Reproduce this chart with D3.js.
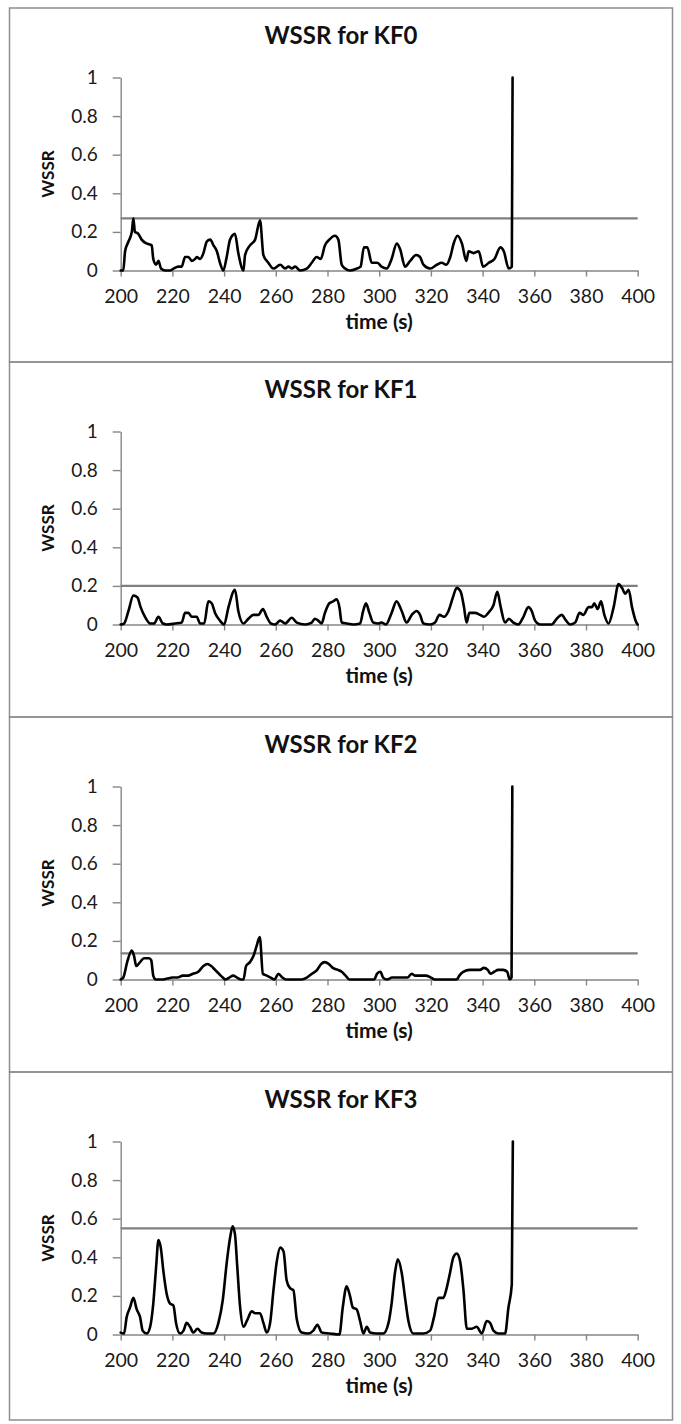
<!DOCTYPE html>
<html><head><meta charset="utf-8">
<script src="https://cdn.jsdelivr.net/npm/d3@7"></script>
<style>
body{margin:0;background:#fff}
svg{display:block}
text{font-family:Lato,"Open Sans","DejaVu Sans",sans-serif}
</style>
</head><body>
<svg id="chart" width="681" height="1424"></svg>
<script>
const titles = ["WSSR for KF0", "WSSR for KF1", "WSSR for KF2", "WSSR for KF3"];
const xTicks = [200, 220, 240, 260, 280, 300, 320, 340, 360, 380, 400];
const yTicks = [0, 0.2, 0.4, 0.6, 0.8, 1];
const thresholds = [0.27, 0.2, 0.135, 0.55];
const xLabel = "time (s)";
const yLabel = "WSSR";

const kf0 = [[200,0],[201,0],[201.7,0.10],[203,0.15],[204.3,0.20],[204.9,0.27],[205.5,0.20],[206.8,0.19],[208.1,0.16],[210,0.14],[212,0.13],[212.6,0.06],[213.7,0.03],[214.6,0.05],[215.6,0.01],[217.2,0],[219.1,0],[220.4,0.01],[222.3,0.02],[223.6,0.02],[224.9,0.07],[226.2,0.07],[227.5,0.05],[228.8,0.06],[229.4,0.07],[230.7,0.06],[232,0.09],[233.3,0.15],[234.6,0.16],[235.9,0.13],[237.2,0.10],[238.4,0.04],[239.7,0],[241,0.07],[242.3,0.16],[244.2,0.19],[245.5,0.09],[247.5,0],[248.1,0.08],[250,0.13],[252,0.16],[253.9,0.26],[255.2,0.08],[257.1,0.04],[259.1,0.01],[261.7,0.03],[263.6,0.01],[264.9,0.02],[266.2,0.01],[267.5,0.02],[269.4,0],[272,0.01],[273.9,0.04],[275.8,0.07],[277.4,0.06],[279,0.13],[280.7,0.16],[282.9,0.18],[284.2,0.16],[285.5,0.03],[286.8,0.01],[288.7,0],[291.3,0.01],[292.8,0.02],[294.1,0.12],[295.4,0.12],[297.1,0.04],[299.3,0.04],[300.9,0.02],[302.9,0.01],[304.8,0.06],[306.8,0.14],[308.1,0.11],[310,0.02],[312,0.05],[314.3,0.08],[315.8,0.07],[317.1,0.03],[319.7,0.01],[322.3,0.03],[324.2,0.04],[325.9,0.03],[327.5,0.07],[328.8,0.14],[330.3,0.18],[332,0.14],[333.7,0.05],[334.6,0.10],[336.5,0.09],[338.5,0.10],[340.2,0.02],[342.4,0.04],[344.6,0.06],[346.9,0.12],[348.2,0.10],[350.1,0.01],[351.3,0.02],[351.6,1]];

const kf1 = [[200,0],[201.3,0.005],[203,0.07],[204.9,0.15],[206.5,0.14],[207.7,0.09],[209.4,0.04],[211.4,0.005],[212.9,0.005],[214.6,0.04],[216.3,0.005],[217.8,0],[221,0.005],[223.6,0.01],[224.9,0.06],[226.2,0.06],[227.5,0.04],[229.4,0.04],[230.7,0.005],[232.3,0.005],[233.9,0.12],[235.2,0.11],[236.5,0.06],[238.4,0.02],[240,0],[241.7,0.09],[244.2,0.18],[245.5,0.07],[247.5,0.005],[249.4,0.03],[251.3,0.05],[253.3,0.05],[255,0.08],[256.5,0.04],[258.1,0.005],[259.7,0],[261.7,0.02],[263.6,0.005],[266.2,0.035],[268.1,0.01],[271.3,0],[273.9,0.01],[275.1,0.03],[276.4,0.02],[277.7,0.005],[279,0.06],[280.7,0.11],[282.2,0.12],[283.5,0.13],[284.6,0.09],[285.5,0.01],[287.4,0.005],[290,0],[292.6,0.005],[293.8,0.07],[294.9,0.11],[296.2,0.06],[297.7,0.01],[299.7,0.005],[300.9,0.01],[302.6,0],[304.8,0.06],[306.7,0.12],[308.7,0.07],[310.6,0.01],[312.6,0.05],[314.5,0.07],[315.8,0.05],[317.1,0.005],[319.7,0],[321.6,0.01],[323.3,0.05],[325.1,0.04],[326.8,0.07],[328.5,0.14],[330,0.19],[331.5,0.17],[332.8,0.09],[333.8,0.01],[334.9,0.06],[337.1,0.06],[339,0.05],[340.6,0.04],[342.2,0.06],[344.2,0.10],[345.7,0.17],[347,0.09],[348.7,0.01],[350.2,0.03],[351.9,0.01],[353.8,0],[355.8,0.04],[357.7,0.09],[359,0.07],[360.3,0.02],[362.2,0],[366.7,0],[368.7,0.03],[370.6,0.05],[372.3,0.02],[373.8,0],[375.8,0.01],[377.5,0.06],[379,0.05],[381,0.09],[382.3,0.09],[383.2,0.11],[384.5,0.08],[385.8,0.12],[387.1,0.05],[388.7,0.005],[390.7,0.09],[392.6,0.21],[393.9,0.19],[395.2,0.16],[396.5,0.18],[397.8,0.09],[399.5,0.01],[400,0]];

const kf2 = [[200,0],[201,0.01],[202.5,0.09],[204.3,0.15],[205.2,0.12],[206,0.07],[207.5,0.09],[209,0.11],[211,0.11],[211.8,0.10],[212.6,0.02],[213.5,0],[216,0],[218,0.005],[220,0.01],[222,0.01],[224,0.02],[226,0.02],[228,0.03],[230,0.04],[232,0.07],[233.5,0.08],[235,0.07],[236.5,0.05],[238,0.03],[239.5,0.01],[240.5,0],[242,0.01],[243.5,0.02],[245,0.01],[246.5,0],[247.5,0],[248.5,0.07],[250,0.09],[251.3,0.12],[252.5,0.17],[253.8,0.22],[255,0.03],[256.5,0.02],[258,0.01],[259.5,0],[261,0.03],[262.5,0.01],[264,0],[270,0],[272,0.01],[274,0.03],[276,0.05],[277.5,0.08],[279,0.09],[280.5,0.08],[282,0.06],[284,0.05],[285.5,0.04],[287,0.02],[288.5,0],[298,0],[299.2,0.03],[300.5,0.04],[301.5,0.01],[303,0],[305,0.01],[308,0.01],[311,0.01],[312.5,0.03],[314,0.02],[316,0.02],[318,0.02],[320,0.01],[321.5,0],[330,0],[331,0.02],[332.5,0.04],[335,0.05],[337.5,0.05],[339,0.05],[340.5,0.06],[342,0.05],[343,0.03],[344.5,0.04],[346,0.05],[348,0.05],[349.5,0.04],[350.5,0],[351.2,0.01],[351.5,1]];

const kf3 = [[200,0.01],[201.3,0.005],[202.3,0.09],[203.6,0.14],[204.9,0.19],[206.2,0.13],[207.5,0.09],[208.5,0.02],[210.1,0.005],[211.4,0.04],[212.6,0.16],[213.7,0.35],[214.6,0.49],[215.5,0.45],[216.5,0.33],[217.8,0.21],[219.1,0.16],[220.4,0.15],[221.4,0.06],[223,0.005],[224.3,0.02],[225.5,0.06],[226.8,0.04],[228.1,0.01],[229.7,0.03],[231.3,0.01],[233.3,0.005],[235.9,0.005],[237.8,0.06],[239.5,0.18],[241,0.37],[242.3,0.50],[243.3,0.56],[244.2,0.52],[245.1,0.35],[246.2,0.14],[247.5,0.04],[248.8,0.07],[250.7,0.12],[252,0.11],[253.9,0.11],[255.2,0.06],[256.5,0.01],[257.8,0.06],[259.1,0.23],[260.4,0.38],[261.7,0.45],[263,0.43],[264.2,0.28],[265.5,0.24],[266.8,0.23],[268.1,0.08],[270,0.01],[272.6,0.005],[274.5,0.02],[276.1,0.05],[277.8,0.01],[281,0.005],[284.6,0],[285.9,0.14],[287.4,0.25],[288.7,0.20],[289.8,0.14],[291.3,0.13],[292.6,0.07],[293.9,0.005],[295.2,0.04],[296.5,0.01],[299,0.005],[301.6,0.005],[303.6,0.06],[304.8,0.16],[306.1,0.32],[307.2,0.39],[308.7,0.32],[310,0.19],[311.3,0.07],[313.2,0.005],[317.1,0.005],[319.7,0.02],[321.2,0.09],[322.9,0.19],[324.8,0.19],[326.1,0.24],[327.4,0.32],[328.7,0.40],[330,0.42],[331.3,0.38],[332.6,0.23],[333.9,0.03],[335.8,0.03],[337.7,0.04],[339.7,0.005],[341.6,0.07],[342.9,0.06],[344.2,0.02],[346.1,0.005],[348.7,0.005],[350,0.14],[351.3,0.26],[351.7,1]];

const series = [kf0, kf1, kf2, kf3];

// ---- layout ----
const svg = d3.select("#chart");
svg.append("rect").attr("width", 681).attr("height", 1424).attr("fill", "#fff");
const panelTops = [8, 362, 717, 1072];
const panelBottoms = [362, 717, 1072, 1420];
const left = 9.5, right = 672.5;
const x = d3.scaleLinear().domain([200, 400]).range([120.7, 637.7]);
const y = d3.scaleLinear().domain([0, 1]).range([262.5, 69.5]);
const axisColor = "#868686";

series.forEach((data, i) => {
  const top = panelTops[i];
  const g = svg.append("g").attr("transform", `translate(0,${top})`);

  // frame
  g.append("rect")
    .attr("x", left).attr("y", 0)
    .attr("width", right - left).attr("height", panelBottoms[i] - top)
    .attr("fill", "none").attr("stroke", "#8e8e8e").attr("stroke-width", 1.5);

  // title
  g.append("text").attr("x", 341).attr("y", 36)
    .attr("text-anchor", "middle").attr("font-size", 24).attr("font-weight", 700)
    .attr("fill", "#111").text(titles[i]);

  // y axis
  const ya = g.append("g").attr("transform", `translate(${x(200)},0)`)
    .call(d3.axisLeft(y).tickValues(yTicks).tickSize(8).tickSizeOuter(0).tickPadding(15)
      .tickFormat(d => String(d)));
  // x axis
  const xa = g.append("g").attr("transform", `translate(0,${y(0)})`)
    .call(d3.axisBottom(x).tickValues(xTicks).tickSize(6).tickSizeOuter(0).tickPadding(13)
      .tickFormat(d => String(d)));
  [ya, xa].forEach(a => {
    a.select(".domain").attr("stroke", axisColor).attr("stroke-width", 1.4);
    a.selectAll(".tick line").attr("stroke", axisColor).attr("stroke-width", 1.4);
    a.selectAll(".tick text").attr("fill", "#1a1a1a").style("font-family", "Lato, 'Open Sans', sans-serif");
  });
  ya.selectAll(".tick text").attr("font-size", 19);
  xa.selectAll(".tick text").attr("font-size", 19.5);

  // axis titles
  g.append("text").attr("transform", `translate(54,${y(0.5)}) rotate(-90)`)
    .attr("text-anchor", "middle").attr("font-size", 17).attr("font-weight", 700)
    .attr("fill", "#111").text(yLabel);
  g.append("text").attr("x", (x(200) + x(400)) / 2).attr("y", 321)
    .attr("text-anchor", "middle").attr("font-size", 21).attr("font-weight", 700)
    .attr("fill", "#111").text(xLabel);

  // threshold
  g.append("line")
    .attr("x1", x(200)).attr("x2", x(400))
    .attr("y1", y(thresholds[i])).attr("y2", y(thresholds[i]))
    .attr("stroke", "#7f7f7f").attr("stroke-width", 2.2);

  // data
  const line = d3.line().x(d => x(d[0])).y(d => y(d[1])).curve(d3.curveMonotoneX);
  g.append("path").datum(data).attr("d", line)
    .attr("fill", "none").attr("stroke", "#000").attr("stroke-width", 2.6)
    .attr("stroke-linejoin", "round").attr("stroke-linecap", "round");
});
</script>
</body></html>
